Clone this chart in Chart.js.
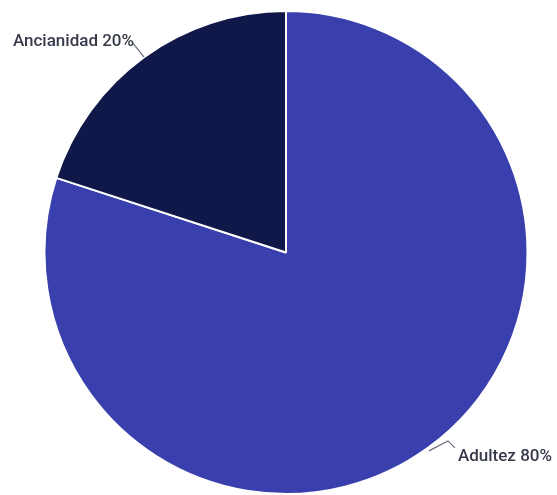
<!DOCTYPE html>
<html>
<head>
<meta charset="utf-8">
<script src="https://cdn.jsdelivr.net/npm/chart.js@4"></script>
<style>
html,body{margin:0;padding:0;background:#fff;}
#wrap{width:557px;height:495px;position:relative;}
</style>
</head>
<body>
<div id="wrap"><canvas id="c"></canvas></div>
<script>
const categories = ["Adultez", "Ancianidad"];
const values = [80, 20];
const colors = ["#3940ae", "#0f1848"];

const labelPlugin = {
  id: 'leaderLabels',
  afterDatasetsDraw(chart) {
    const ctx = chart.ctx;
    const meta = chart.getDatasetMeta(0);
    ctx.save();
    ctx.font = '500 17px Roboto, "Noto Sans", sans-serif';
    ctx.fillStyle = '#363a4a';
    ctx.strokeStyle = '#6a6e7c';
    ctx.lineWidth = 1.2;
    ctx.textBaseline = 'middle';
    meta.data.forEach((arc, i) => {
      const p = arc.getProps(['x','y','startAngle','endAngle','outerRadius'], true);
      const mid = (p.startAngle + p.endAngle) / 2;
      const ax = p.x + Math.cos(mid) * p.outerRadius;
      const ay = p.y + Math.sin(mid) * p.outerRadius;
      const text = categories[i] + ' ' + values[i] + '%';
      ctx.beginPath();
      if (Math.cos(mid) >= 0) {
        ctx.moveTo(ax + 1, ay + 3);
        ctx.lineTo(ax + 20, ay - 7);
        ctx.lineTo(ax + 27, ay);
        ctx.stroke();
        ctx.textAlign = 'left';
        ctx.fillText(text, ax + 30, ay + 9);
      } else {
        ctx.moveTo(ax, ay);
        ctx.lineTo(ax - 12, ay - 15);
        ctx.stroke();
        ctx.textAlign = 'right';
        ctx.fillText(text, ax - 10, ay - 15);
      }
    });
    ctx.restore();
  }
};

new Chart(document.getElementById('c'), {
  type: 'pie',
  data: {
    labels: categories,
    datasets: [{
      data: values,
      backgroundColor: colors,
      borderColor: '#ffffff',
      borderWidth: 2
    }]
  },
  options: {
    responsive: true,
    maintainAspectRatio: false,
    animation: false,
    layout: { padding: { top: 10, bottom: 0, left: 15, right: 0 } },
    plugins: { legend: { display: false }, tooltip: { enabled: false } }
  },
  plugins: [labelPlugin]
});
</script>
</body>
</html>
